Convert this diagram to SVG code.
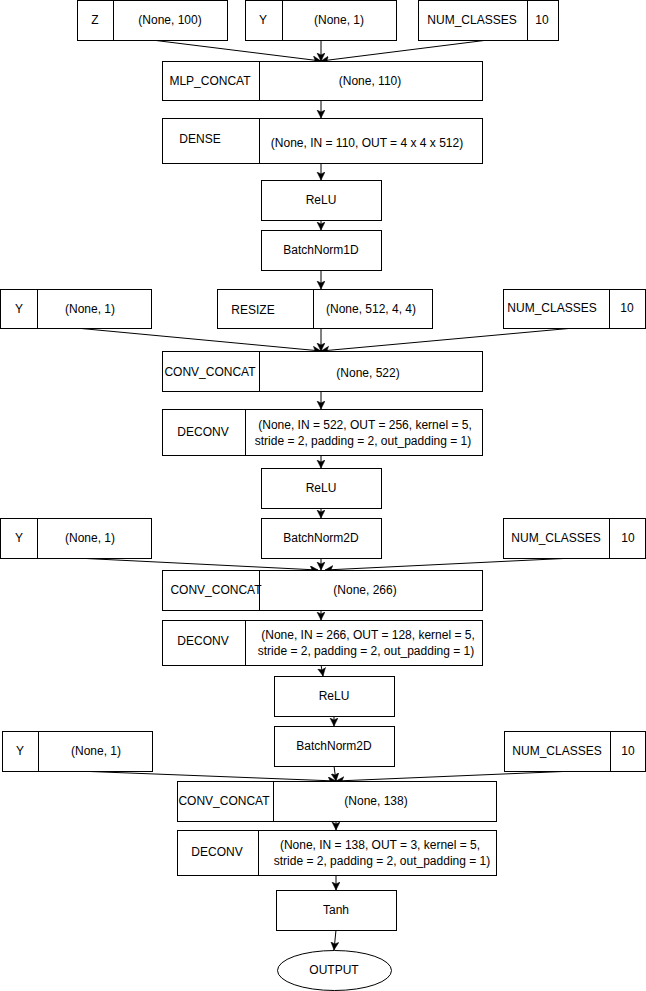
<svg xmlns="http://www.w3.org/2000/svg" width="646" height="991" viewBox="0 0 646 991">
  <style>
    .box { fill: #ffffff; stroke: #000000; stroke-width: 1; }
    .div { stroke: #000000; stroke-width: 1; }
    .t { font-family: "Liberation Sans", Arial, Helvetica, sans-serif; font-size: 12px; fill: #000000; text-anchor: middle; dominant-baseline: central; }
    .edge { fill: none; stroke: #000000; stroke-width: 1; marker-end: url(#arrow); }
  </style>
  <defs>
    <marker id="arrow" markerUnits="userSpaceOnUse" markerWidth="10" markerHeight="10" refX="8" refY="4" orient="auto">
      <path d="M0,0 L8,4 L0,8 L2,4 Z" fill="#000000" stroke="#000000" stroke-width="0.5"/>
    </marker>
  </defs>
  <rect width="646" height="991" fill="#ffffff"/>

  <!-- connectors -->
  <g id="edges">
    <path class="edge" d="M152,40 L321,61"/>
    <path class="edge" d="M321,40 L321,61"/>
    <path class="edge" d="M488,40 L321,61"/>
    <path class="edge" d="M321,100 L321,118"/>
    <path class="edge" d="M321,163 L321,180"/>
    <path class="edge" d="M321,220 L321,230"/>
    <path class="edge" d="M321,270 L321,289"/>

    <path class="edge" d="M76,328 L321,351"/>
    <path class="edge" d="M321,328 L321,351"/>
    <path class="edge" d="M574,328 L321,351"/>
    <path class="edge" d="M321,391 L321,409"/>
    <path class="edge" d="M321,455 L321,468"/>
    <path class="edge" d="M321,508 L321,518"/>

    <path class="edge" d="M76,558 L318,570"/>
    <path class="edge" d="M321,558 L321,570"/>
    <path class="edge" d="M574,558 L325,570"/>
    <path class="edge" d="M321,610 L321,620"/>
    <path class="edge" d="M321,665 L323,676"/>
    <path class="edge" d="M334,716 L334,726"/>

    <path class="edge" d="M77,771 L336,781"/>
    <path class="edge" d="M334,766 L336,781"/>
    <path class="edge" d="M575,771 L336,781"/>
    <path class="edge" d="M336,821 L336,830"/>
    <path class="edge" d="M336,875 L336,890"/>
    <path class="edge" d="M336,930 L334,950"/>
  </g>

  <!-- inputs, row 1 -->
  <g id="z_in">
    <rect class="box" x="77.5" y="0.5" width="150" height="40"/>
    <line class="div" x1="113.5" y1="0.5" x2="113.5" y2="40.5"/>
    <text class="t" x="95" y="20">Z</text>
    <text class="t" x="170" y="20">(None, 100)</text>
  </g>
  <g id="y_in1">
    <rect class="box" x="245.5" y="0.5" width="151" height="40"/>
    <line class="div" x1="282.5" y1="0.5" x2="282.5" y2="40.5"/>
    <text class="t" x="263" y="20">Y</text>
    <text class="t" x="339" y="20">(None, 1)</text>
  </g>
  <g id="nc_in1">
    <rect class="box" x="418.5" y="0.5" width="140" height="40"/>
    <line class="div" x1="527.5" y1="0.5" x2="527.5" y2="40.5"/>
    <text class="t" x="472" y="20">NUM_CLASSES</text>
    <text class="t" x="542" y="20">10</text>
  </g>

  <g id="mlp_concat">
    <rect class="box" x="162.5" y="61.5" width="320" height="39"/>
    <line class="div" x1="259.5" y1="61.5" x2="259.5" y2="100.5"/>
    <text class="t" x="210" y="81">MLP_CONCAT</text>
    <text class="t" x="370" y="81">(None, 110)</text>
  </g>
  <g id="dense">
    <rect class="box" x="162.5" y="118.5" width="320" height="45"/>
    <line class="div" x1="259.5" y1="118.5" x2="259.5" y2="163.5"/>
    <text class="t" x="200" y="139">DENSE</text>
    <text class="t" x="367" y="143">(None, IN = 110, OUT = 4 x 4 x 512)</text>
  </g>
  <g id="relu1">
    <rect class="box" x="261.5" y="180.5" width="120" height="40"/>
    <text class="t" x="321" y="200">ReLU</text>
  </g>
  <g id="bn1d">
    <rect class="box" x="261.5" y="230.5" width="120" height="40"/>
    <text class="t" x="321" y="250">BatchNorm1D</text>
  </g>

  <!-- row 2 -->
  <g id="y_in2">
    <rect class="box" x="0.5" y="289.5" width="151" height="39"/>
    <line class="div" x1="37.5" y1="289.5" x2="37.5" y2="328.5"/>
    <text class="t" x="19" y="309">Y</text>
    <text class="t" x="90" y="309">(None, 1)</text>
  </g>
  <g id="resize">
    <rect class="box" x="217.5" y="289.5" width="215" height="39"/>
    <line class="div" x1="313.5" y1="289.5" x2="313.5" y2="328.5"/>
    <text class="t" x="253" y="310">RESIZE</text>
    <text class="t" x="371" y="309">(None, 512, 4, 4)</text>
  </g>
  <g id="nc_in2">
    <rect class="box" x="503.5" y="289.5" width="142" height="39"/>
    <line class="div" x1="609.5" y1="289.5" x2="609.5" y2="328.5"/>
    <text class="t" x="552" y="308">NUM_CLASSES</text>
    <text class="t" x="627" y="308">10</text>
  </g>

  <g id="conv_concat1">
    <rect class="box" x="162.5" y="351.5" width="320" height="40"/>
    <line class="div" x1="259.5" y1="351.5" x2="259.5" y2="391.5"/>
    <text class="t" x="210" y="372">CONV_CONCAT</text>
    <text class="t" x="368" y="373">(None, 522)</text>
  </g>
  <g id="deconv1">
    <rect class="box" x="162.5" y="409.5" width="320" height="46"/>
    <line class="div" x1="245.5" y1="409.5" x2="245.5" y2="455.5"/>
    <text class="t" x="203" y="432">DECONV</text>
    <text class="t" x="365" y="425">(None, IN = 522, OUT = 256, kernel = 5,</text>
    <text class="t" x="363" y="441">stride = 2, padding = 2, out_padding = 1)</text>
  </g>
  <g id="relu2">
    <rect class="box" x="261.5" y="468.5" width="120" height="40"/>
    <text class="t" x="321" y="488">ReLU</text>
  </g>
  <g id="bn2d_1">
    <rect class="box" x="261.5" y="518.5" width="120" height="40"/>
    <text class="t" x="321" y="538">BatchNorm2D</text>
  </g>

  <!-- row 3 -->
  <g id="y_in3">
    <rect class="box" x="0.5" y="518.5" width="151" height="40"/>
    <line class="div" x1="37.5" y1="518.5" x2="37.5" y2="558.5"/>
    <text class="t" x="19" y="538">Y</text>
    <text class="t" x="90" y="538">(None, 1)</text>
  </g>
  <g id="nc_in3">
    <rect class="box" x="503.5" y="518.5" width="142" height="40"/>
    <line class="div" x1="609.5" y1="518.5" x2="609.5" y2="558.5"/>
    <text class="t" x="556" y="538">NUM_CLASSES</text>
    <text class="t" x="628" y="538">10</text>
  </g>

  <g id="conv_concat2">
    <rect class="box" x="162.5" y="570.5" width="320" height="40"/>
    <line class="div" x1="259.5" y1="570.5" x2="259.5" y2="610.5"/>
    <text class="t" x="216" y="590">CONV_CONCAT</text>
    <text class="t" x="365" y="590">(None, 266)</text>
  </g>
  <g id="deconv2">
    <rect class="box" x="162.5" y="620.5" width="320" height="45"/>
    <line class="div" x1="245.5" y1="620.5" x2="245.5" y2="665.5"/>
    <text class="t" x="203" y="641">DECONV</text>
    <text class="t" x="368" y="635">(None, IN = 266, OUT = 128, kernel = 5,</text>
    <text class="t" x="366" y="651">stride = 2, padding = 2, out_padding = 1)</text>
  </g>
  <g id="relu3">
    <rect class="box" x="274.5" y="676.5" width="120" height="40"/>
    <text class="t" x="334" y="696">ReLU</text>
  </g>
  <g id="bn2d_2">
    <rect class="box" x="274.5" y="726.5" width="120" height="40"/>
    <text class="t" x="334" y="746">BatchNorm2D</text>
  </g>

  <!-- row 4 -->
  <g id="y_in4">
    <rect class="box" x="2.5" y="731.5" width="150" height="40"/>
    <line class="div" x1="38.5" y1="731.5" x2="38.5" y2="771.5"/>
    <text class="t" x="20" y="751">Y</text>
    <text class="t" x="96" y="751">(None, 1)</text>
  </g>
  <g id="nc_in4">
    <rect class="box" x="504.5" y="731.5" width="141" height="40"/>
    <line class="div" x1="610.5" y1="731.5" x2="610.5" y2="771.5"/>
    <text class="t" x="557" y="751">NUM_CLASSES</text>
    <text class="t" x="628" y="751">10</text>
  </g>

  <g id="conv_concat3">
    <rect class="box" x="177.5" y="781.5" width="319" height="40"/>
    <line class="div" x1="273.5" y1="781.5" x2="273.5" y2="821.5"/>
    <text class="t" x="224" y="801">CONV_CONCAT</text>
    <text class="t" x="376" y="801">(None, 138)</text>
  </g>
  <g id="deconv3">
    <rect class="box" x="177.5" y="830.5" width="319" height="45"/>
    <line class="div" x1="258.5" y1="830.5" x2="258.5" y2="875.5"/>
    <text class="t" x="217" y="852">DECONV</text>
    <text class="t" x="380" y="845">(None, IN = 138, OUT = 3, kernel = 5,</text>
    <text class="t" x="382" y="861">stride = 2, padding = 2, out_padding = 1)</text>
  </g>
  <g id="tanh">
    <rect class="box" x="276.5" y="890.5" width="120" height="40"/>
    <text class="t" x="336" y="910">Tanh</text>
  </g>
  <g id="output">
    <ellipse class="box" cx="334.5" cy="970.5" rx="57" ry="20"/>
    <text class="t" x="334" y="970">OUTPUT</text>
  </g>
</svg>
